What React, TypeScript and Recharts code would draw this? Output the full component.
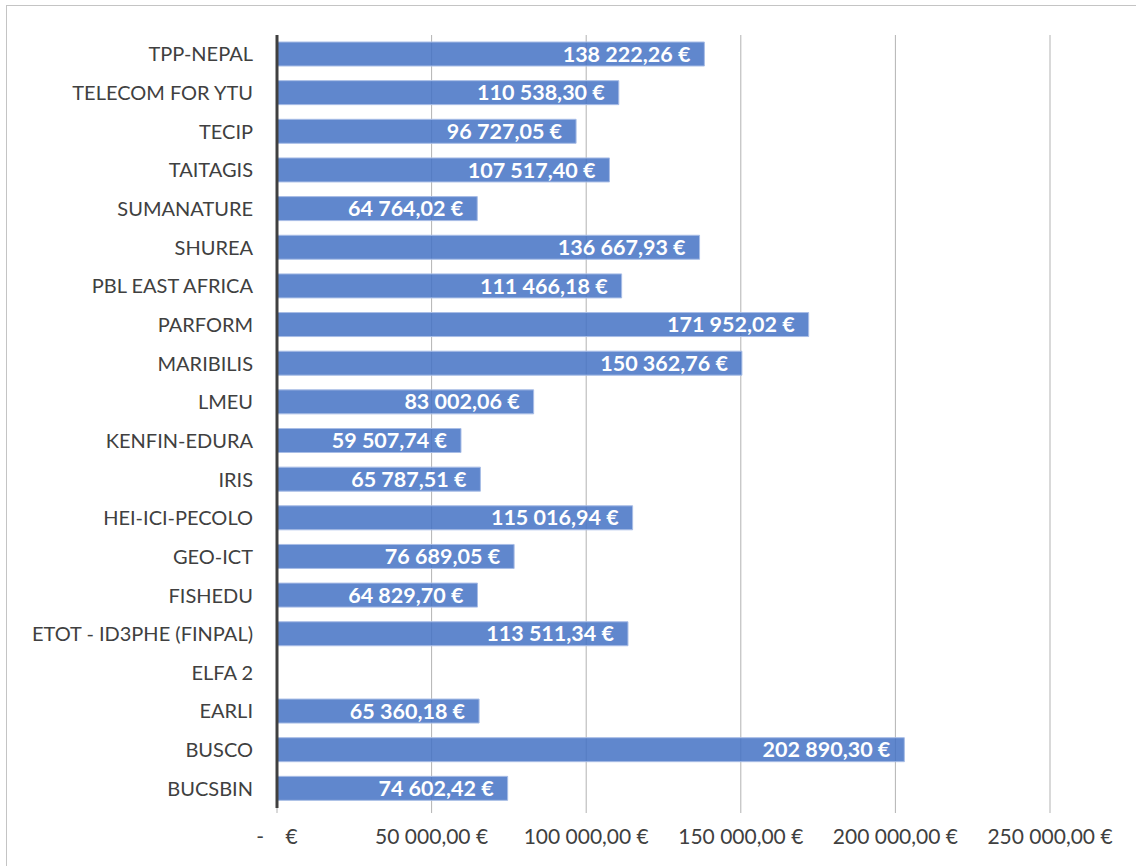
import React from 'react';
import { BarChart, Bar, XAxis, YAxis, CartesianGrid, LabelList } from 'recharts';

const projects = [
  'TPP-NEPAL', 'TELECOM FOR YTU', 'TECIP', 'TAITAGIS', 'SUMANATURE', 'SHUREA',
  'PBL EAST AFRICA', 'PARFORM', 'MARIBILIS', 'LMEU', 'KENFIN-EDURA', 'IRIS',
  'HEI-ICI-PECOLO', 'GEO-ICT', 'FISHEDU ', 'ETOT - ID3PHE (FINPAL)', 'ELFA 2',
  'EARLI', 'BUSCO', 'BUCSBIN',
];
const amounts: (number | null)[] = [
  138222.26, 110538.30, 96727.05, 107517.40, 64764.02, 136667.93,
  111466.18, 171952.02, 150362.76, 83002.06, 59507.74, 65787.51,
  115016.94, 76689.05, 64829.70, 113511.34, null,
  65360.18, 202890.30, 74602.42,
];
const xTicks = [0, 50000, 100000, 150000, 200000, 250000];

const data = projects.map((name, i) => ({ name, value: amounts[i] }));

const fmt = (v: number) => {
  if (!v) return '-\u00A0\u00A0\u00A0\u00A0€';
  const [intPart, dec] = v.toFixed(2).split('.');
  const withSpaces = intPart.replace(/\B(?=(\d{3})+(?!\d))/g, '\u00A0');
  return `${withSpaces},${dec}\u00A0€`;
};

const FONT = 'Lato, "Open Sans", sans-serif';

export default function App() {
  return (
    <div style={{ position: 'absolute', left: 0, top: 0, width: 1136, height: 866, background: '#fff', overflow: 'hidden', fontFamily: FONT }}>
      <div style={{ position: 'absolute', left: 6, top: 5, width: 1140, height: 870, border: '1.5px solid #c4c4c4', boxSizing: 'border-box' }} />
      <BarChart
        width={1136}
        height={866}
        data={data}
        layout="vertical"
        margin={{ top: 35, right: 86, bottom: 28, left: 12 }}
        barSize={24}
      >
        <CartesianGrid horizontal={false} vertical stroke="#b3b3b3" strokeWidth={1} />
        <XAxis
          type="number"
          domain={[0, 250000]}
          ticks={xTicks}
          interval={0}
          axisLine={false}
          tickLine={{ stroke: '#b3b3b3' }}
          tickSize={5}
          tickMargin={16}
          height={30}
          tick={{ fill: '#404040', fontSize: 21, fontFamily: FONT }}
          tickFormatter={(v: number) => fmt(v)}
        />
        <YAxis
          type="category"
          dataKey="name"
          width={265}
          axisLine={{ stroke: '#404040', strokeWidth: 3 }}
          tickLine={false}
          tickMargin={18}
          tick={{ fill: '#404040', fontSize: 20, fontFamily: FONT }}
          interval={0}
        />
        <Bar
          dataKey="value"
          fill="#4472C4"
          fillOpacity={0.85}
          stroke="#a8bde6"
          strokeWidth={1}
          isAnimationActive={false}
        >
          <LabelList
            dataKey="value"
            position="insideRight"
            offset={14}
            formatter={(v: any) => (v ? fmt(v) : '')}
            style={{ fill: '#ffffff', fontWeight: 700, fontSize: 21.5, fontFamily: FONT }}
          />
        </Bar>
      </BarChart>
    </div>
  );
}
